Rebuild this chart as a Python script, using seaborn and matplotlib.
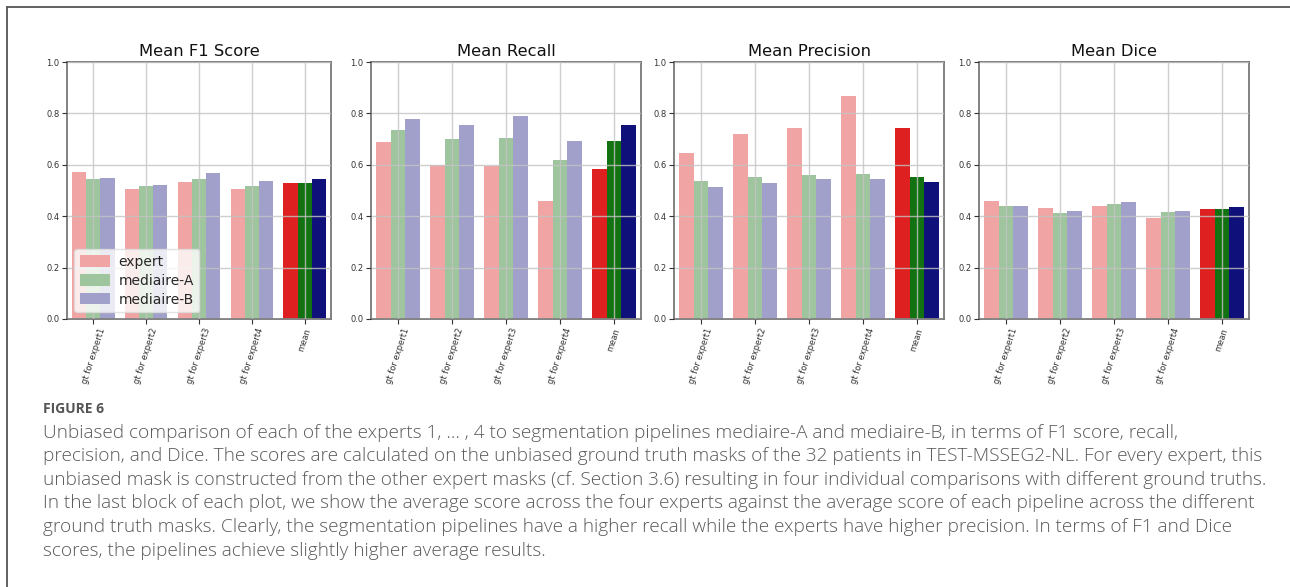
import matplotlib
matplotlib.use("Agg")
import matplotlib.pyplot as plt
from matplotlib.lines import Line2D
import numpy as np
import pandas as pd
import seaborn as sns

# ---- data -------------------------------------------------------------
categories = ["gt for expert1", "gt for expert2", "gt for expert3", "gt for expert4", "mean"]
methods = ["expert", "mediaire-A", "mediaire-B"]

f1_expert = [0.573, 0.506, 0.532, 0.504, 0.528]
f1_med_a = [0.544, 0.518, 0.543, 0.518, 0.531]
f1_med_b = [0.548, 0.523, 0.567, 0.536, 0.544]

recall_expert = [0.689, 0.600, 0.595, 0.459, 0.585]
recall_med_a = [0.737, 0.701, 0.706, 0.620, 0.692]
recall_med_b = [0.780, 0.755, 0.789, 0.692, 0.755]

precision_expert = [0.644, 0.720, 0.742, 0.869, 0.745]
precision_med_a = [0.536, 0.553, 0.562, 0.566, 0.554]
precision_med_b = [0.514, 0.531, 0.544, 0.543, 0.534]

dice_expert = [0.459, 0.430, 0.438, 0.392, 0.429]
dice_med_a = [0.440, 0.414, 0.446, 0.416, 0.429]
dice_med_b = [0.438, 0.421, 0.456, 0.422, 0.434]

panel_titles = ["Mean F1 Score", "Mean Recall", "Mean Precision", "Mean Dice"]
y_ticks = [0.0, 0.2, 0.4, 0.6, 0.8, 1.0]

figure_label = "FIGURE 6"
caption_lines = [
    "Unbiased comparison of each of the experts 1, \u2026 , 4 to segmentation pipelines mediaire-A and mediaire-B, in terms of F1 score, recall,",
    "precision, and Dice. The scores are calculated on the unbiased ground truth masks of the 32 patients in TEST-MSSEG2-NL. For every expert, this",
    "unbiased mask is constructed from the other expert masks (cf. Section 3.6) resulting in four individual comparisons with different ground truths.",
    "In the last block of each plot, we show the average score across the four experts against the average score of each pipeline across the different",
    "ground truth masks. Clearly, the segmentation pipelines have a higher recall while the experts have higher precision. In terms of F1 and Dice",
    "scores, the pipelines achieve slightly higher average results.",
]

# ---- styling ----------------------------------------------------------
light_palette = {"expert": "#f0a4a4", "mediaire-A": "#9ec59e", "mediaire-B": "#a0a0ca"}
dark_palette = {"expert": "#de2020", "mediaire-A": "#127212", "mediaire-B": "#10107a"}

sns.set_theme(style="white")
plt.rcParams["font.family"] = ["DejaVu Sans"]

W, H = 1290, 587
fig = plt.figure(figsize=(W / 100, H / 100), dpi=100)
fig.patch.set_facecolor("white")

# axes boxes in pixels: (left, right)
ax_lr = [(67, 331), (371, 641), (674, 944), (979, 1249)]
ax_top, ax_bottom = 62, 319

panels = [
    (f1_expert, f1_med_a, f1_med_b),
    (recall_expert, recall_med_a, recall_med_b),
    (precision_expert, precision_med_a, precision_med_b),
    (dice_expert, dice_med_a, dice_med_b),
]


def long_frame(series):
    rows = []
    for method, vals in zip(methods, series):
        for cat, v in zip(categories, vals):
            rows.append({"category": cat, "method": method, "score": v})
    return pd.DataFrame(rows)


for i, (series, title) in enumerate(zip(panels, panel_titles)):
    l, r = ax_lr[i]
    ax = fig.add_axes([l / W, 1 - ax_bottom / H, (r - l) / W, (ax_bottom - ax_top) / H])
    df = long_frame(series)
    per_gt = df[df["category"] != "mean"]
    avg = df[df["category"] == "mean"]

    sns.barplot(data=per_gt, x="category", y="score", hue="method", order=categories,
                hue_order=methods, palette=light_palette, saturation=1, errorbar=None,
                linewidth=0, ax=ax, legend=(i == 0))
    sns.barplot(data=avg, x="category", y="score", hue="method", order=categories,
                hue_order=methods, palette=dark_palette, saturation=1, errorbar=None,
                linewidth=0, ax=ax, legend=False)

    ax.set_xlim(-0.5, len(categories) - 0.5)
    ax.set_ylim(0, 1.0)
    ax.set_yticks(y_ticks)
    ax.set_yticklabels([f"{t:.1f}" for t in y_ticks])
    ax.set_xlabel("")
    ax.set_ylabel("")
    ax.set_xticks(range(len(categories)))
    ax.set_xticklabels(categories, rotation=72)
    ax.tick_params(axis="both", labelsize=6, colors="#333333", length=3.5, width=0.8,
                   direction="out", bottom=True, left=True, pad=2)
    ax.set_axisbelow(False)
    ax.grid(True, color="#c4c4c4", linewidth=1.0, alpha=0.8)
    for s in ax.spines.values():
        s.set_color("#777777")
        s.set_linewidth(1.3)
    ax.set_title(title, fontsize=11.8, color="#111111", pad=4)

    if i == 0:
        leg = ax.legend(loc="lower left", fontsize=10, frameon=True, fancybox=True,
                        framealpha=0.8, edgecolor="#dddddd", handlelength=2.2,
                        handleheight=0.9, borderpad=0.4, labelspacing=0.35,
                        handletextpad=0.6, bbox_to_anchor=(0.0, 0.0))
        for h in leg.legend_handles:
            h.set_alpha(1)

# ---- page frame and caption ------------------------------------------
frame_kw = dict(color="#555555", linewidth=1.3, transform=fig.transFigure)
fig.add_artist(Line2D([7 / W, 7 / W], [0, 1 - 7 / H], **frame_kw))
fig.add_artist(Line2D([7 / W, 1], [1 - 7 / H, 1 - 7 / H], **frame_kw))

cap_x = 43 / W
fig.text(cap_x, 1 - 409 / H, figure_label, fontsize=10, fontweight="bold",
         color="#555555", family=["Open Sans", "DejaVu Sans"], va="center", ha="left")
line_y = [433, 456, 480, 503, 527, 551]
for y, txt in zip(line_y, caption_lines):
    fig.text(cap_x, 1 - y / H, txt, fontsize=13.7, color="#5a5a5a", fontweight="light",
             family=["Open Sans", "DejaVu Sans"], va="center", ha="left")

fig.savefig("out.png", dpi=100, facecolor="white")
